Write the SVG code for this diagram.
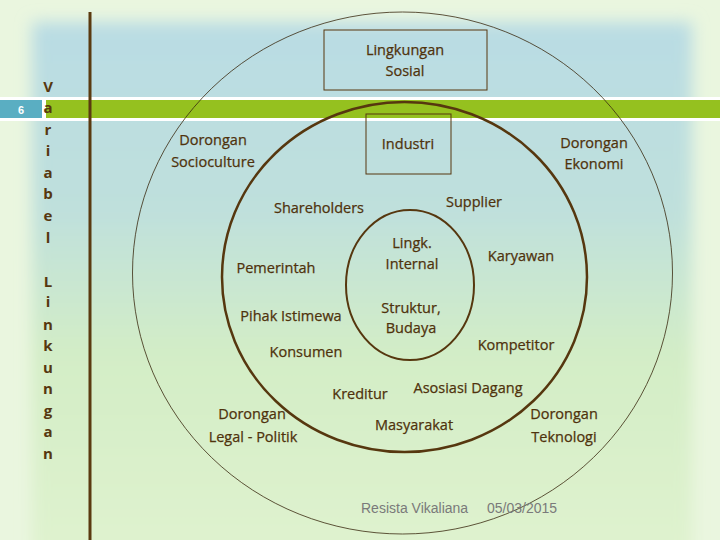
<svg xmlns="http://www.w3.org/2000/svg" width="720" height="540" viewBox="0 0 720 540">
<defs>
<linearGradient id="bg" x1="0" y1="0" x2="0" y2="1">
<stop offset="0" stop-color="#b9dce4"/>
<stop offset="0.35" stop-color="#bfe0dc"/>
<stop offset="0.62" stop-color="#d3edc6"/>
<stop offset="1" stop-color="#e0f3cf"/>
</linearGradient>
<filter id="blur" x="-10%" y="-10%" width="120%" height="120%"><feGaussianBlur stdDeviation="8"/></filter>
<style>
.t{font-family:"Open Sans","Liberation Sans",sans-serif;font-size:14.5px;fill:#4f320c;stroke:#4f320c;stroke-width:0.25;text-anchor:middle}
.v{font-family:"Open Sans","Liberation Sans",sans-serif;font-size:15px;font-weight:bold;fill:#56370f;text-anchor:middle}
.f{font-family:"Liberation Sans",Arial,sans-serif;font-size:14px;fill:#7a7a7a}
.box{fill:none;stroke:#56370f;stroke-width:1}
</style>
</defs>
<rect width="720" height="540" fill="#eaf6df"/>
<rect x="32" y="22" width="660" height="540" fill="url(#bg)" filter="url(#blur)"/>
<rect x="0" y="97" width="720" height="24" fill="#ffffff"/>
<rect x="0" y="100" width="42" height="18" fill="#5aaec2"/>
<rect x="46" y="100" width="674" height="18" fill="#95c11f"/>
<text x="21" y="114" font-family="Liberation Sans,Arial,sans-serif" font-size="11" font-weight="bold" fill="#ffffff" text-anchor="middle">6</text>
<line x1="90" y1="12" x2="90" y2="540" stroke="#5a3a10" stroke-width="3"/>
<g id="vertical-label">
<text class="v" x="48" y="92">V</text>
<text class="v" x="48" y="113">a</text>
<text class="v" x="48" y="135">r</text>
<text class="v" x="48" y="156">i</text>
<text class="v" x="48" y="178">a</text>
<text class="v" x="48" y="199">b</text>
<text class="v" x="48" y="221">e</text>
<text class="v" x="48" y="243">l</text>
<text class="v" x="48" y="287">L</text>
<text class="v" x="48" y="307">i</text>
<text class="v" x="48" y="330">n</text>
<text class="v" x="48" y="351">k</text>
<text class="v" x="48" y="373">u</text>
<text class="v" x="48" y="394">n</text>
<text class="v" x="48" y="416">g</text>
<text class="v" x="48" y="437">a</text>
<text class="v" x="48" y="459">n</text>
</g>
<g id="outer-circle"><ellipse cx="402.5" cy="273" rx="270" ry="261" fill="none" stroke="#3a2a10" stroke-width="0.8"/></g>
<g id="middle-circle"><ellipse cx="404.5" cy="277" rx="182.5" ry="175" fill="none" stroke="#56370f" stroke-width="2.5"/></g>
<g id="inner-circle"><ellipse cx="410" cy="285" rx="64" ry="75" fill="none" stroke="#56370f" stroke-width="2"/></g>
<g id="lingkungan-sosial"><rect class="box" x="324" y="30" width="163" height="60"/><text class="t" x="405" y="55">Lingkungan</text><text class="t" x="405" y="76">Sosial</text></g>
<g id="industri"><rect class="box" x="366" y="114" width="85" height="60"/><text class="t" x="408" y="149">Industri</text></g>
<g id="dorongan-socioculture"><text class="t" x="213" y="145">Dorongan</text><text class="t" x="213" y="167">Socioculture</text></g>
<g id="dorongan-ekonomi"><text class="t" x="594" y="148">Dorongan</text><text class="t" x="594" y="169">Ekonomi</text></g>
<g id="shareholders"><text class="t" x="319" y="213">Shareholders</text></g>
<g id="supplier"><text class="t" x="474" y="207">Supplier</text></g>
<g id="lingk-internal"><text class="t" x="412" y="248">Lingk.</text><text class="t" x="412" y="269">Internal</text></g>
<g id="karyawan"><text class="t" x="521" y="261">Karyawan</text></g>
<g id="pemerintah"><text class="t" x="276" y="273">Pemerintah</text></g>
<g id="pihak-istimewa"><text class="t" x="291" y="321">Pihak Istimewa</text></g>
<g id="struktur-budaya"><text class="t" x="411" y="313">Struktur,</text><text class="t" x="411" y="333">Budaya</text></g>
<g id="kompetitor"><text class="t" x="516" y="350">Kompetitor</text></g>
<g id="konsumen"><text class="t" x="306" y="357">Konsumen</text></g>
<g id="kreditur"><text class="t" x="360" y="399">Kreditur</text></g>
<g id="asosiasi-dagang"><text class="t" x="468" y="393">Asosiasi Dagang</text></g>
<g id="dorongan-legal"><text class="t" x="252" y="419">Dorongan</text><text class="t" x="253" y="442">Legal - Politik</text></g>
<g id="masyarakat"><text class="t" x="414" y="430">Masyarakat</text></g>
<g id="dorongan-teknologi"><text class="t" x="564" y="419">Dorongan</text><text class="t" x="564" y="442">Teknologi</text></g>
<g id="footer"><text class="f" x="361" y="513">Resista Vikaliana</text><text class="f" x="487" y="513">05/03/2015</text></g>
</svg>
